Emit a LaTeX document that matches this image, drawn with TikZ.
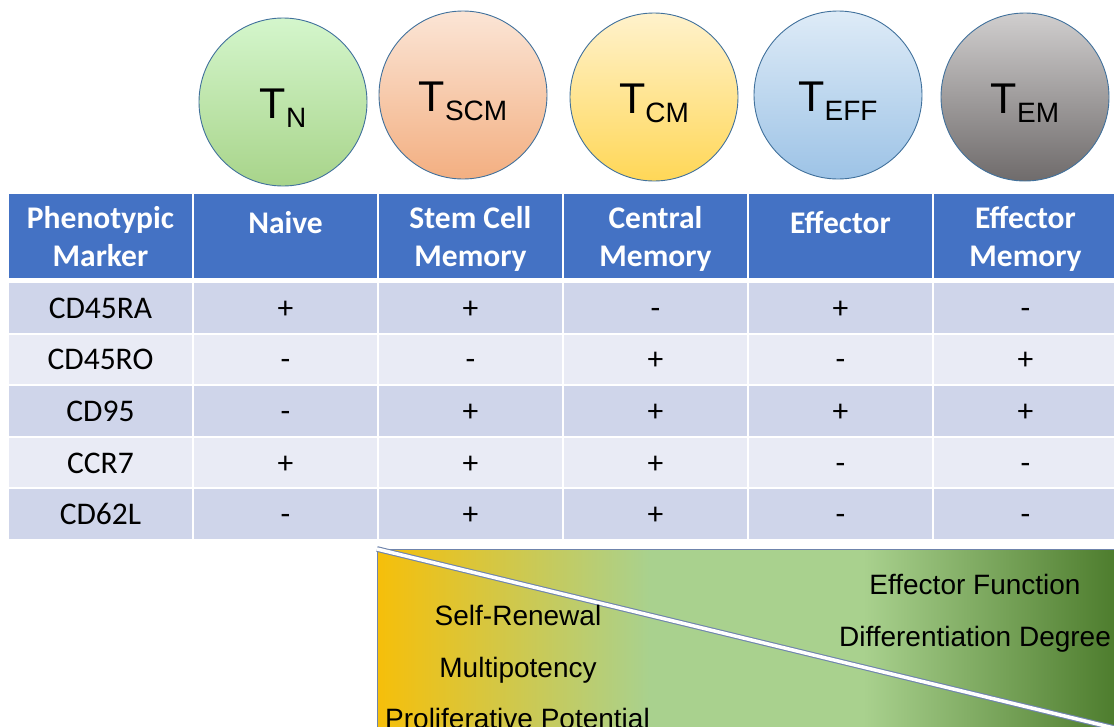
\documentclass[tikz,border=0pt]{standalone}
\usepackage{fontspec}
\setmainfont{Liberation Sans}
\newfontfamily\tabfont{Carlito}
\definecolor{hdrblue}{HTML}{4472C4}
\definecolor{rowdark}{HTML}{CFD5EA}
\definecolor{rowlight}{HTML}{E9EBF5}
\definecolor{rimblue}{HTML}{41719C}
\definecolor{panelrim}{HTML}{6F84AC}
\definecolor{gradgold}{HTML}{F6BF0A}
\definecolor{gradleaf}{HTML}{A9D18E}
\definecolor{graddark}{HTML}{4E7D2E}
\definecolor{tnTop}{HTML}{D4F6CC}
\definecolor{tnBot}{HTML}{A8D48A}
\definecolor{tscmTop}{HTML}{FBE5D6}
\definecolor{tscmBot}{HTML}{F3AF81}
\definecolor{tcmTop}{HTML}{FFF2CC}
\definecolor{tcmBot}{HTML}{FFD757}
\definecolor{teffTop}{HTML}{DEEBF7}
\definecolor{teffBot}{HTML}{9DC3E6}
\definecolor{temTop}{HTML}{D0CECE}
\definecolor{temBot}{HTML}{6F6B6B}
\newcommand\tsub[1]{\raisebox{-9pt}{\fontsize{28}{28}\selectfont #1}}
\pgfdeclarehorizontalshading{potency}{100bp}{color(0bp)=(gradgold); color(25bp)=(gradgold); color(43.5bp)=(gradleaf); color(58bp)=(gradleaf); color(75bp)=(graddark); color(100bp)=(graddark)}
\tikzset{
  cellball/.style={circle, minimum size=168pt, draw=rimblue, line width=0.9pt, inner sep=0pt,
    font=\fontsize{43}{43}\selectfont, text height=33pt, text depth=1pt},
  hdcell/.style={rectangle, minimum width=185pt, minimum height=86pt, fill=hdrblue, draw=white, line width=2pt, inner sep=0pt},
  bodycell/.style={rectangle, minimum width=185pt, minimum height=51.6pt, draw=white, line width=2pt, inner sep=0pt},
  hdtext/.style={font=\tabfont\bfseries\fontsize{31.5}{38}\selectfont, text=white, align=center, inner sep=0pt,
    anchor=north, execute at begin node=\strut},
  bodytext/.style={font=\tabfont\fontsize{31.5}{38}\selectfont, inner sep=0pt, anchor=base},
  trendtext/.style={font=\fontsize{28}{34}\selectfont, inner sep=0pt, anchor=base}
}
\begin{document}
\begin{tikzpicture}[x=1pt,y=-1pt]
\clip (0,0) rectangle (1114,726);
% cell types
\foreach \nm/\cx/\cy/\ctop/\cbot/\sub in {tn/283/102/tnTop/tnBot/N, tscm/463/95/tscmTop/tscmBot/SCM,
    tcm/654/97/tcmTop/tcmBot/CM, teff/838/95/teffTop/teffBot/EFF, tem/1025/97/temTop/temBot/EM}
  \node[cellball, top color=\ctop, bottom color=\cbot] (\nm) at (\cx,\cy) {T\tsub{\sub}};
% table
\foreach \hd [count=\c] in {Phenotypic\\Marker, Naive, Stem Cell\\Memory, Central\\Memory, Effector, Effector\\Memory} {
  \node[hdcell] (hd-\c) at (8+185*\c-92.5,236) {};
  \node[hdtext] (hdt-\c) at (8+185*\c-92.5,206.5) {\hd};
}
\foreach \mk/\vals [count=\r] in {CD45RA/{+,+,-,+,-}, CD45RO/{-,-,+,-,+}, CD95/{-,+,+,+,+},
    CCR7/{+,+,+,-,-}, CD62L/{-,+,+,-,-}} {
  \ifodd\r \def\rowcol{rowdark}\else \def\rowcol{rowlight}\fi
  \node[bodycell, fill=\rowcol] (m-\r-1) at (100.5,282+51.6*\r-25.8) {};
  \node[bodytext] (mt-\r-1) at (100.5,292.5+51.6*\r-25.8) {\mk};
  \foreach \v [count=\c from 2] in \vals {
    \node[bodycell, fill=\rowcol] (m-\r-\c) at (8+185*\c-92.5,282+51.6*\r-25.8) {};
    \node[bodytext] (mt-\r-\c) at (8+185*\c-92.5,292.5+51.6*\r-25.8) {\v};
  }
}
% potency panel
\coordinate (pnw) at (377,549);
\coordinate (pse) at (1114,728);
\shade[shading=potency] (pnw) rectangle (pse);
\draw[panelrim, line width=1pt] (pnw -| pse) -- (pnw) -- (pnw |- pse);
\draw[panelrim, line width=1.1pt, double=white, double distance=3.5pt] (pnw) -- (pse);
\node[trendtext] (selfren) at (518,625) {Self-Renewal};
\node[trendtext] (multipot) at (518,677) {Multipotency};
\node[trendtext, anchor=base west] (prolif) at (385,728) {Proliferative Potential};
\node[trendtext] (efffun) at (975,594) {Effector Function};
\node[trendtext] (diffdeg) at (975,646) {Differentiation Degree};
\end{tikzpicture}
\end{document}
